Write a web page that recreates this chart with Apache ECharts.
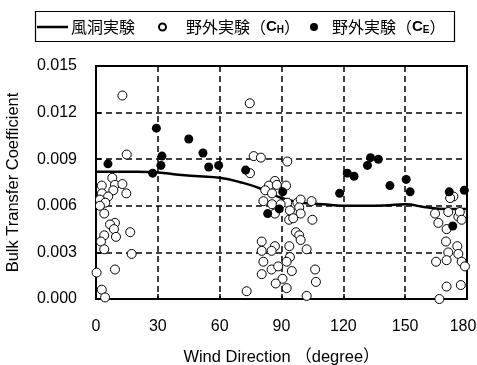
<!DOCTYPE html>
<html><head><meta charset="utf-8">
<script src="https://cdn.jsdelivr.net/npm/echarts@6/dist/echarts.min.js"></script>
<style>html,body{margin:0;padding:0;background:#fff}#c{width:477px;height:365px}</style>
</head><body><div id="c"></div>
<script>
const xTicks = [0, 30, 60, 90, 120, 150, 180];
const yTicks = [0.000, 0.003, 0.006, 0.009, 0.012, 0.015];
const tunnelAngles = [0,10,20,30,40,50,60,70,80,90,100,110,120,130,140,150,160,170,180];
const tunnelValues = [0.0082,0.0082,0.0082,0.00815,0.0080,0.0079,0.0078,0.00752,0.0071,0.0065,0.0062,0.0061,0.0060,0.0060,0.00602,0.0061,0.0059,0.0058,0.0058];
const fieldCH = [
[12.8,0.0131],[14.9,0.0093],[7.9,0.0078],[2.8,0.0073],[9.2,0.00735],[12.8,0.0074],[8.4,0.0070],[14.7,0.0068],[2.9,0.0068],[5.9,0.0066],[1.9,0.0064],[4.5,0.0062],[1.9,0.0060],[4.0,0.0055],[9.2,0.0049],[6.8,0.0048],[8.7,0.0045],[9.7,0.0040],[16.6,0.0043],[4.0,0.0041],[2.4,0.0037],[4.0,0.0032],[17.3,0.0029],[9.2,0.0019],[0.3,0.0017],[2.8,0.0006],[4.4,0.0001],
[74.6,0.0126],[76.5,0.0092],[80,0.0091],[92.8,0.00885],[74.7,0.0081],[86.8,0.0076],[83.9,0.0073],[87.7,0.00735],[92.2,0.0073],[82.1,0.0070],[85.4,0.0068],[81.2,0.0063],[85.4,0.0061],[92.8,0.0062],[97.7,0.0062],[99.3,0.0064],[104.6,0.0063],[89.6,0.0061],[86.8,0.0055],[94.1,0.0057],[98.6,0.0059],[99.3,0.0055],[93.7,0.0051],[95.7,0.0052],[105,0.0051],[97,0.0043],[98.6,0.0041],[99.3,0.0038],[80.4,0.0037],[80.4,0.0031],[86.8,0.0034],[93.8,0.0034],[85.2,0.0031],[102.2,0.0032],[94.1,0.0027],[92.5,0.0024],[81.2,0.0024],[85.2,0.0019],[88.4,0.0021],[95,0.0018],[80.4,0.0016],[106.3,0.0019],[90.5,0.0013],[87.2,0.0010],[106.7,0.0011],[92.5,0.0007],[73.1,0.0005],[102.2,0.0002],
[173.4,0.0066],[171.8,0.0065],[164.5,0.0055],[170.9,0.0056],[175.8,0.0053],[176.5,0.0056],[177.4,0.0051],[166.1,0.0049],[170.1,0.0045],[169.8,0.0037],[175.3,0.0034],[170.9,0.0030],[175.8,0.0029],[165,0.0024],[170.1,0.0025],[177.4,0.0024],[179,0.0021],[170.1,0.0008],[177,0.0009],[166.6,0.0000]
];
const fieldCE = [
[5.8,0.0087],[29.3,0.0110],[27.5,0.0081],[31.5,0.0086],[32.0,0.0092],[45,0.0103],[51.9,0.0094],[54.7,0.0085],[59.5,0.0086],[72.6,0.0083],[83.3,0.0055],[88.9,0.0058],[90.6,0.0069],[118.2,0.0068],[121.9,0.0081],[125.2,0.0079],[131.7,0.0086],[133.2,0.0091],[137,0.0090],[142.6,0.0073],[150.5,0.0077],[152.4,0.0069],[171.4,0.0069],[178.7,0.0070],[173.1,0.0047]
];

const FONT = '"Liberation Sans", Arial, "Noto Sans CJK JP", sans-serif';
const JFONT = '"Noto Sans CJK JP", "Liberation Sans", sans-serif';
const chart = echarts.init(document.getElementById('c'), null, {renderer: 'canvas'});
const richLeg = {
  j: {fontFamily: JFONT, fontSize: 16, color: '#000'},
  c: {fontFamily: FONT, fontSize: 15, fontWeight: 'bold', color: '#000'},
  s: {fontFamily: FONT, fontSize: 10, fontWeight: 'bold', color: '#000', verticalAlign: 'bottom', padding: [7,0,0,0]}
};
chart.setOption({
  animation: false,
  grid: {left: 96, right: 10, top: 66, bottom: 66, show: true, borderColor: '#000', borderWidth: 2,
         outerBoundsMode: 'none', containLabel: false},
  graphic: [{type: 'rect', left: 33, top: 9, shape: {width: 419, height: 30}, style: {fill: 'none', stroke: '#000', lineWidth: 1.2}, z: 100}],
  legend: [
    {data: [{name: '風洞実験', icon: 'rect'}], left: 37, top: 19, itemWidth: 31, itemHeight: 2.5, padding: 0,
     itemStyle: {color: '#000'},
     textStyle: {fontFamily: JFONT, fontSize: 16, color: '#000', padding: [0,0,0,-2]}},
    {data: [{name: 'CH', icon: 'circle'}], left: 158, top: 19, itemWidth: 7, itemHeight: 7, padding: 0, itemGap: 0,
     formatter: () => '{j|野外実験（}{c|C}{s|H}{j|）}', textStyle: {rich: richLeg, padding: [0,0,0,15]}},
    {data: [{name: 'CE', icon: 'circle'}], left: 310, top: 19, itemWidth: 8, itemHeight: 8, padding: 0, itemGap: 0,
     formatter: () => '{j|野外実験（}{c|C}{s|E}{j|）}', textStyle: {rich: richLeg, padding: [0,0,0,9]}}
  ],
  xAxis: {
    type: 'value', min: 0, max: 180, interval: 30,
    name: 'Wind Direction （degree）', nameLocation: 'middle', nameGap: 50,
    nameTextStyle: {fontFamily: FONT, fontSize: 16.5, color: '#000'},
    axisLine: {show: true, lineStyle: {color: '#000', width: 2}},
    axisTick: {show: true, inside: true, length: 5, lineStyle: {color: '#000', width: 1.5}},
    axisLabel: {fontFamily: FONT, fontSize: 16, color: '#000', margin: 20,
      formatter: v => v === 180 ? '{r|180}' : (xTicks.includes(v) ? String(v) : ''),
      rich: {r: {fontFamily: FONT, fontSize: 16, color: '#000', padding: [0, 8, 0, 0]}}},
    splitLine: {show: true, lineStyle: {color: '#000', width: 1.5, type: [6, 4]}}
  },
  yAxis: {
    type: 'value', min: 0, max: 0.015, interval: 0.003,
    name: 'Bulk Transfer Coefficient', nameLocation: 'middle', nameGap: 74,
    nameTextStyle: {fontFamily: FONT, fontSize: 16.5, color: '#000'},
    axisLine: {show: true, lineStyle: {color: '#000', width: 2}},
    axisTick: {show: true, inside: true, length: 5, lineStyle: {color: '#000', width: 1.5}},
    axisLabel: {fontFamily: FONT, fontSize: 16, color: '#000', margin: 19,
      formatter: v => yTicks.find(t => Math.abs(t - v) < 1e-9) !== undefined ? v.toFixed(3) : ''},
    splitLine: {show: true, lineStyle: {color: '#000', width: 1.5, type: [6, 4]}}
  },
  series: [
    {name: '風洞実験', type: 'line', smooth: true, showSymbol: false, symbol: 'none',
     data: tunnelAngles.map((a, i) => [a, tunnelValues[i]]),
     lineStyle: {color: '#000', width: 2.5}, itemStyle: {color: '#000'}, z: 2},
    {name: 'CH', type: 'scatter', symbol: 'circle', symbolSize: 9, data: fieldCH,
     itemStyle: {color: '#fff', borderColor: '#000', borderWidth: 1, opacity: 1}, z: 3},
    {name: 'CE', type: 'scatter', symbol: 'circle', symbolSize: 9, data: fieldCE,
     itemStyle: {color: '#000', borderColor: '#000', borderWidth: 0, opacity: 1}, z: 4}
  ]
});
</script></body></html>
